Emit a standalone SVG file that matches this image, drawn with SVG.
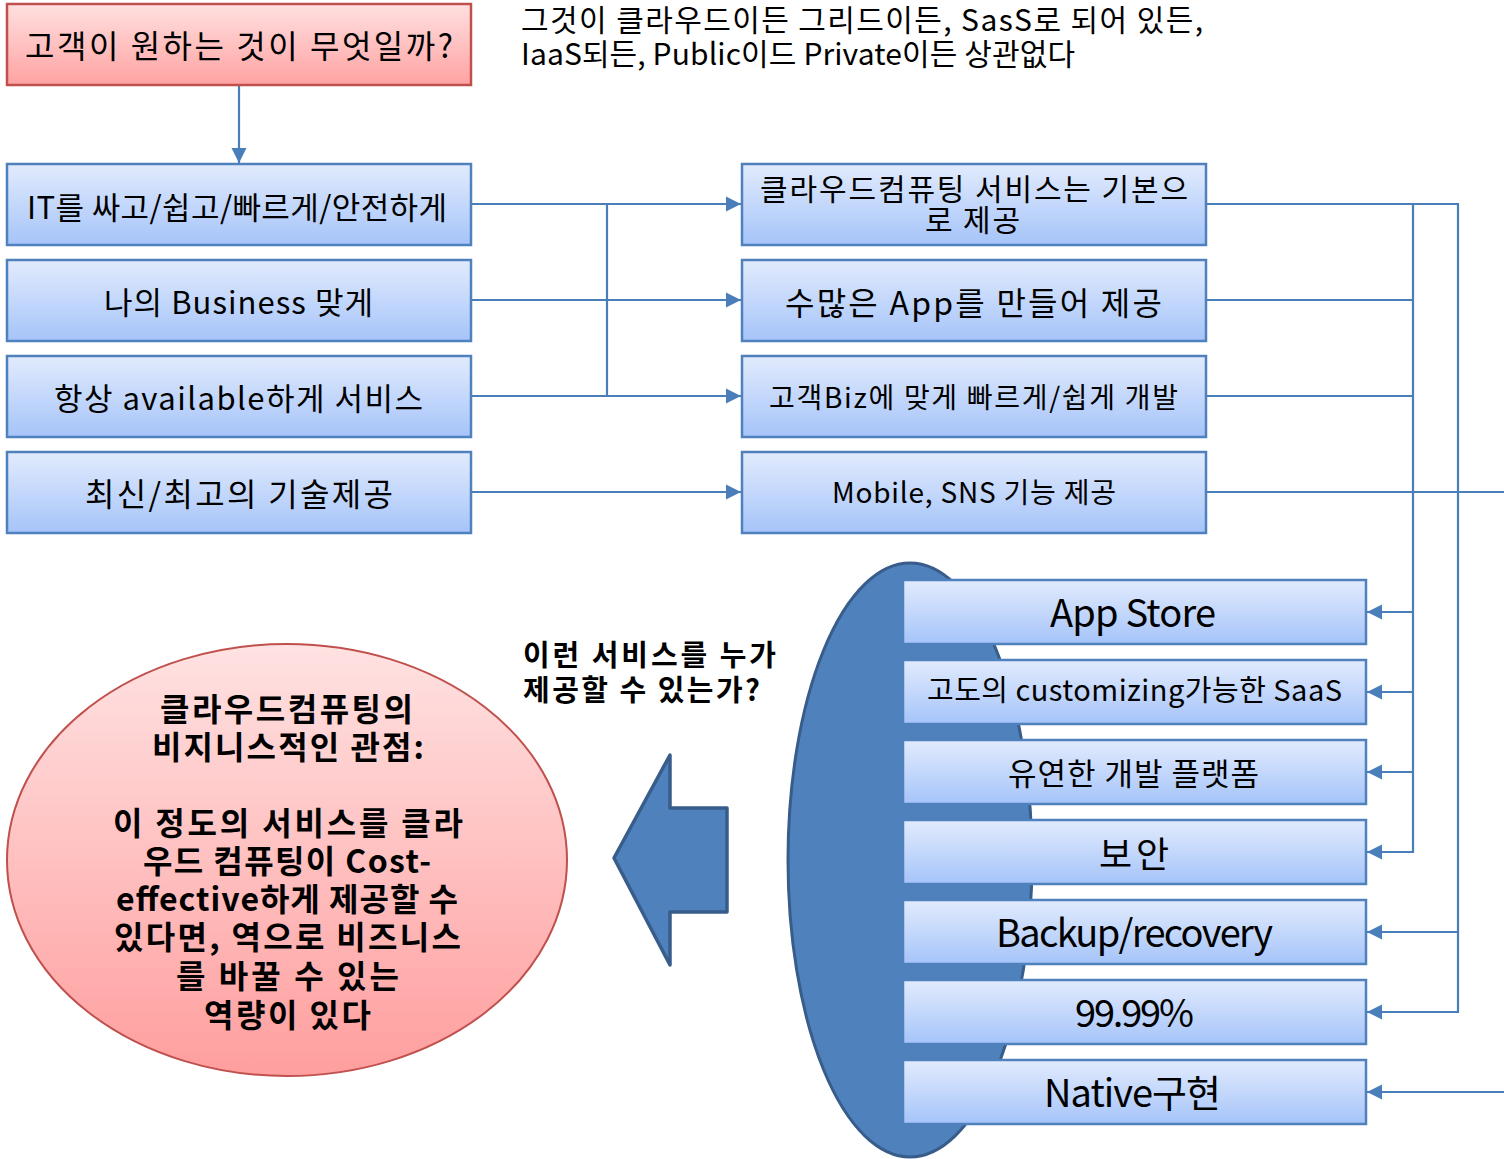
<svg xmlns="http://www.w3.org/2000/svg" width="1504" height="1159" viewBox="0 0 1504 1159">
<style>
.t{font-family:"Noto Sans CJK KR","Noto Sans",sans-serif;fill:#000;}
.b{font-weight:bold;}
.bx{fill:url(#gb);stroke:#4f81bd;stroke-width:2.5;}
.rb{fill:url(#gr);stroke:#c0504d;stroke-width:2.5;}
.c{fill:none;stroke:#4a7ebb;stroke-width:2.2;}
</style>
<defs>
<linearGradient id="gb" x1="0" y1="0" x2="0" y2="1"><stop offset="0" stop-color="#e2ebfd"/><stop offset="1" stop-color="#a5c4f9"/></linearGradient>
<linearGradient id="gr" x1="0" y1="0" x2="0" y2="1"><stop offset="0" stop-color="#ffe0e0"/><stop offset="1" stop-color="#ffa2a2"/></linearGradient>
<linearGradient id="ge" x1="0" y1="0" x2="0" y2="1"><stop offset="0" stop-color="#ffe2e2"/><stop offset="1" stop-color="#ff9e9e"/></linearGradient>
<marker id="ah" markerUnits="userSpaceOnUse" markerWidth="16" markerHeight="16" viewBox="0 0 16 16" refX="15" refY="8" orient="auto"><path d="M0,0.5 L15,8 L0,15.5 z" fill="#4a7ebb"/></marker>
</defs>

<g id="note">
<text class="t" x="521" y="31" font-size="30" textLength="682" lengthAdjust="spacing">그것이 클라우드이든 그리드이든, SasS로 되어 있든,</text>
<text class="t" x="521" y="65" font-size="30" textLength="554" lengthAdjust="spacing">IaaS되든, Public이드 Private이든 상관없다</text>
</g>

<g id="bigEllipse"><ellipse cx="910" cy="860" rx="122" ry="297" fill="#4f81bd" stroke="#385d8a" stroke-width="3"/></g>

<g id="connectors">
<path class="c" d="M239,85 V163" marker-end="url(#ah)"/>
<path class="c" d="M471,204 H741" marker-end="url(#ah)"/>
<path class="c" d="M471,300 H741" marker-end="url(#ah)"/>
<path class="c" d="M471,396 H741" marker-end="url(#ah)"/>
<path class="c" d="M471,492 H741" marker-end="url(#ah)"/>
<path class="c" d="M607,204 V396"/>
<path class="c" d="M1206,204 H1458 V932 H1367" marker-end="url(#ah)"/>
<path class="c" d="M1458,932 V1012 H1367" marker-end="url(#ah)"/>
<path class="c" d="M1206,300 H1413"/>
<path class="c" d="M1206,396 H1413"/>
<path class="c" d="M1206,492 H1504"/>
<path class="c" d="M1413,204 V852 H1367" marker-end="url(#ah)"/>
<path class="c" d="M1413,612 H1367" marker-end="url(#ah)"/>
<path class="c" d="M1413,692 H1367" marker-end="url(#ah)"/>
<path class="c" d="M1413,772 H1367" marker-end="url(#ah)"/>
<path class="c" d="M1504,1092 H1367" marker-end="url(#ah)"/>
</g>

<g id="q"><rect class="rb" x="7" y="4" width="464" height="81"/>
<text class="t" x="25" y="58" font-size="32" textLength="428" lengthAdjust="spacing">고객이 원하는 것이 무엇일까?</text></g>

<g id="l1"><rect class="bx" x="7" y="164" width="464" height="81"/>
<text class="t" x="27" y="219" font-size="31" textLength="420" lengthAdjust="spacing">IT를 싸고/쉽고/빠르게/안전하게</text></g>
<g id="l2"><rect class="bx" x="7" y="260" width="464" height="81"/>
<text class="t" x="104" y="314" font-size="31" textLength="269" lengthAdjust="spacing">나의 Business 맞게</text></g>
<g id="l3"><rect class="bx" x="7" y="356" width="464" height="81"/>
<text class="t" x="54" y="410" font-size="31" textLength="369" lengthAdjust="spacing">항상 available하게 서비스</text></g>
<g id="l4"><rect class="bx" x="7" y="452" width="464" height="81"/>
<text class="t" x="85" y="506" font-size="32" textLength="308" lengthAdjust="spacing">최신/최고의 기술제공</text></g>

<g id="m1"><rect class="bx" x="742" y="164" width="464" height="81"/>
<text class="t" x="760" y="200" font-size="30" textLength="428" lengthAdjust="spacing">클라우드컴퓨팅 서비스는 기본으</text>
<text class="t" x="925" y="231" font-size="30" textLength="95" lengthAdjust="spacing">로 제공</text></g>
<g id="m2"><rect class="bx" x="742" y="260" width="464" height="81"/>
<text class="t" x="785" y="315" font-size="32" textLength="377" lengthAdjust="spacing">수많은 App를 만들어 제공</text></g>
<g id="m3"><rect class="bx" x="742" y="356" width="464" height="81"/>
<text class="t" x="769" y="408" font-size="28" textLength="409" lengthAdjust="spacing">고객Biz에 맞게 빠르게/쉽게 개발</text></g>
<g id="m4"><rect class="bx" x="742" y="452" width="464" height="81"/>
<text class="t" x="832" y="503" font-size="28" textLength="284" lengthAdjust="spacing">Mobile, SNS 기능 제공</text></g>

<g id="r1"><rect class="bx" x="903" y="580" width="463" height="64"/>
<text class="t" x="1050" y="627" font-size="38" textLength="166" lengthAdjust="spacing">App Store</text></g>
<g id="r2"><rect class="bx" x="903" y="660" width="463" height="64"/>
<text class="t" x="927" y="701" font-size="29" textLength="415" lengthAdjust="spacing">고도의 customizing가능한 SaaS</text></g>
<g id="r3"><rect class="bx" x="903" y="740" width="463" height="64"/>
<text class="t" x="1008" y="785" font-size="31" textLength="251" lengthAdjust="spacing">유연한 개발 플랫폼</text></g>
<g id="r4"><rect class="bx" x="903" y="820" width="463" height="64"/>
<text class="t" x="1099" y="868" font-size="36" textLength="70" lengthAdjust="spacing">보안</text></g>
<g id="r5"><rect class="bx" x="903" y="900" width="463" height="64"/>
<text class="t" x="996" y="947" font-size="38" textLength="277" lengthAdjust="spacing">Backup/recovery</text></g>
<g id="r6"><rect class="bx" x="903" y="980" width="463" height="64"/>
<text class="t" x="1075" y="1027" font-size="38" textLength="119" lengthAdjust="spacing">99.99%</text></g>
<g id="r7"><rect class="bx" x="903" y="1060" width="463" height="64"/>
<text class="t" x="1044" y="1107" font-size="38" textLength="177" lengthAdjust="spacing">Native구현</text></g>

<g id="question">
<text class="t b" x="523" y="666" font-size="29" textLength="253" lengthAdjust="spacing">이런 서비스를 누가</text>
<text class="t b" x="523" y="701" font-size="29" textLength="237" lengthAdjust="spacing">제공할 수 있는가?</text>
</g>

<g id="arrow"><polygon points="614,858 670,755 670,808 727,808 727,912 670,912 670,965" fill="#4f81bd" stroke="#385d8a" stroke-width="3.5" stroke-linejoin="round"/></g>

<g id="view">
<ellipse cx="287" cy="860" rx="280" ry="216" fill="url(#ge)" stroke="#c0504d" stroke-width="2"/>
<text class="t b" x="160" y="721" font-size="32" textLength="253" lengthAdjust="spacing">클라우드컴퓨팅의</text>
<text class="t b" x="152" y="759" font-size="32" textLength="272" lengthAdjust="spacing">비지니스적인 관점:</text>
<text class="t b" x="113" y="835" font-size="32" textLength="350" lengthAdjust="spacing">이 정도의 서비스를 클라</text>
<text class="t b" x="143" y="873" font-size="32" textLength="288" lengthAdjust="spacing">우드 컴퓨팅이 Cost-</text>
<text class="t b" x="116" y="911" font-size="32" textLength="342" lengthAdjust="spacing">effective하게 제공할 수</text>
<text class="t b" x="114" y="949" font-size="32" textLength="347" lengthAdjust="spacing">있다면, 역으로 비즈니스</text>
<text class="t b" x="176" y="988" font-size="32" textLength="223" lengthAdjust="spacing">를 바꿀 수 있는</text>
<text class="t b" x="204" y="1027" font-size="32" textLength="167" lengthAdjust="spacing">역량이 있다</text>
</g>
</svg>
